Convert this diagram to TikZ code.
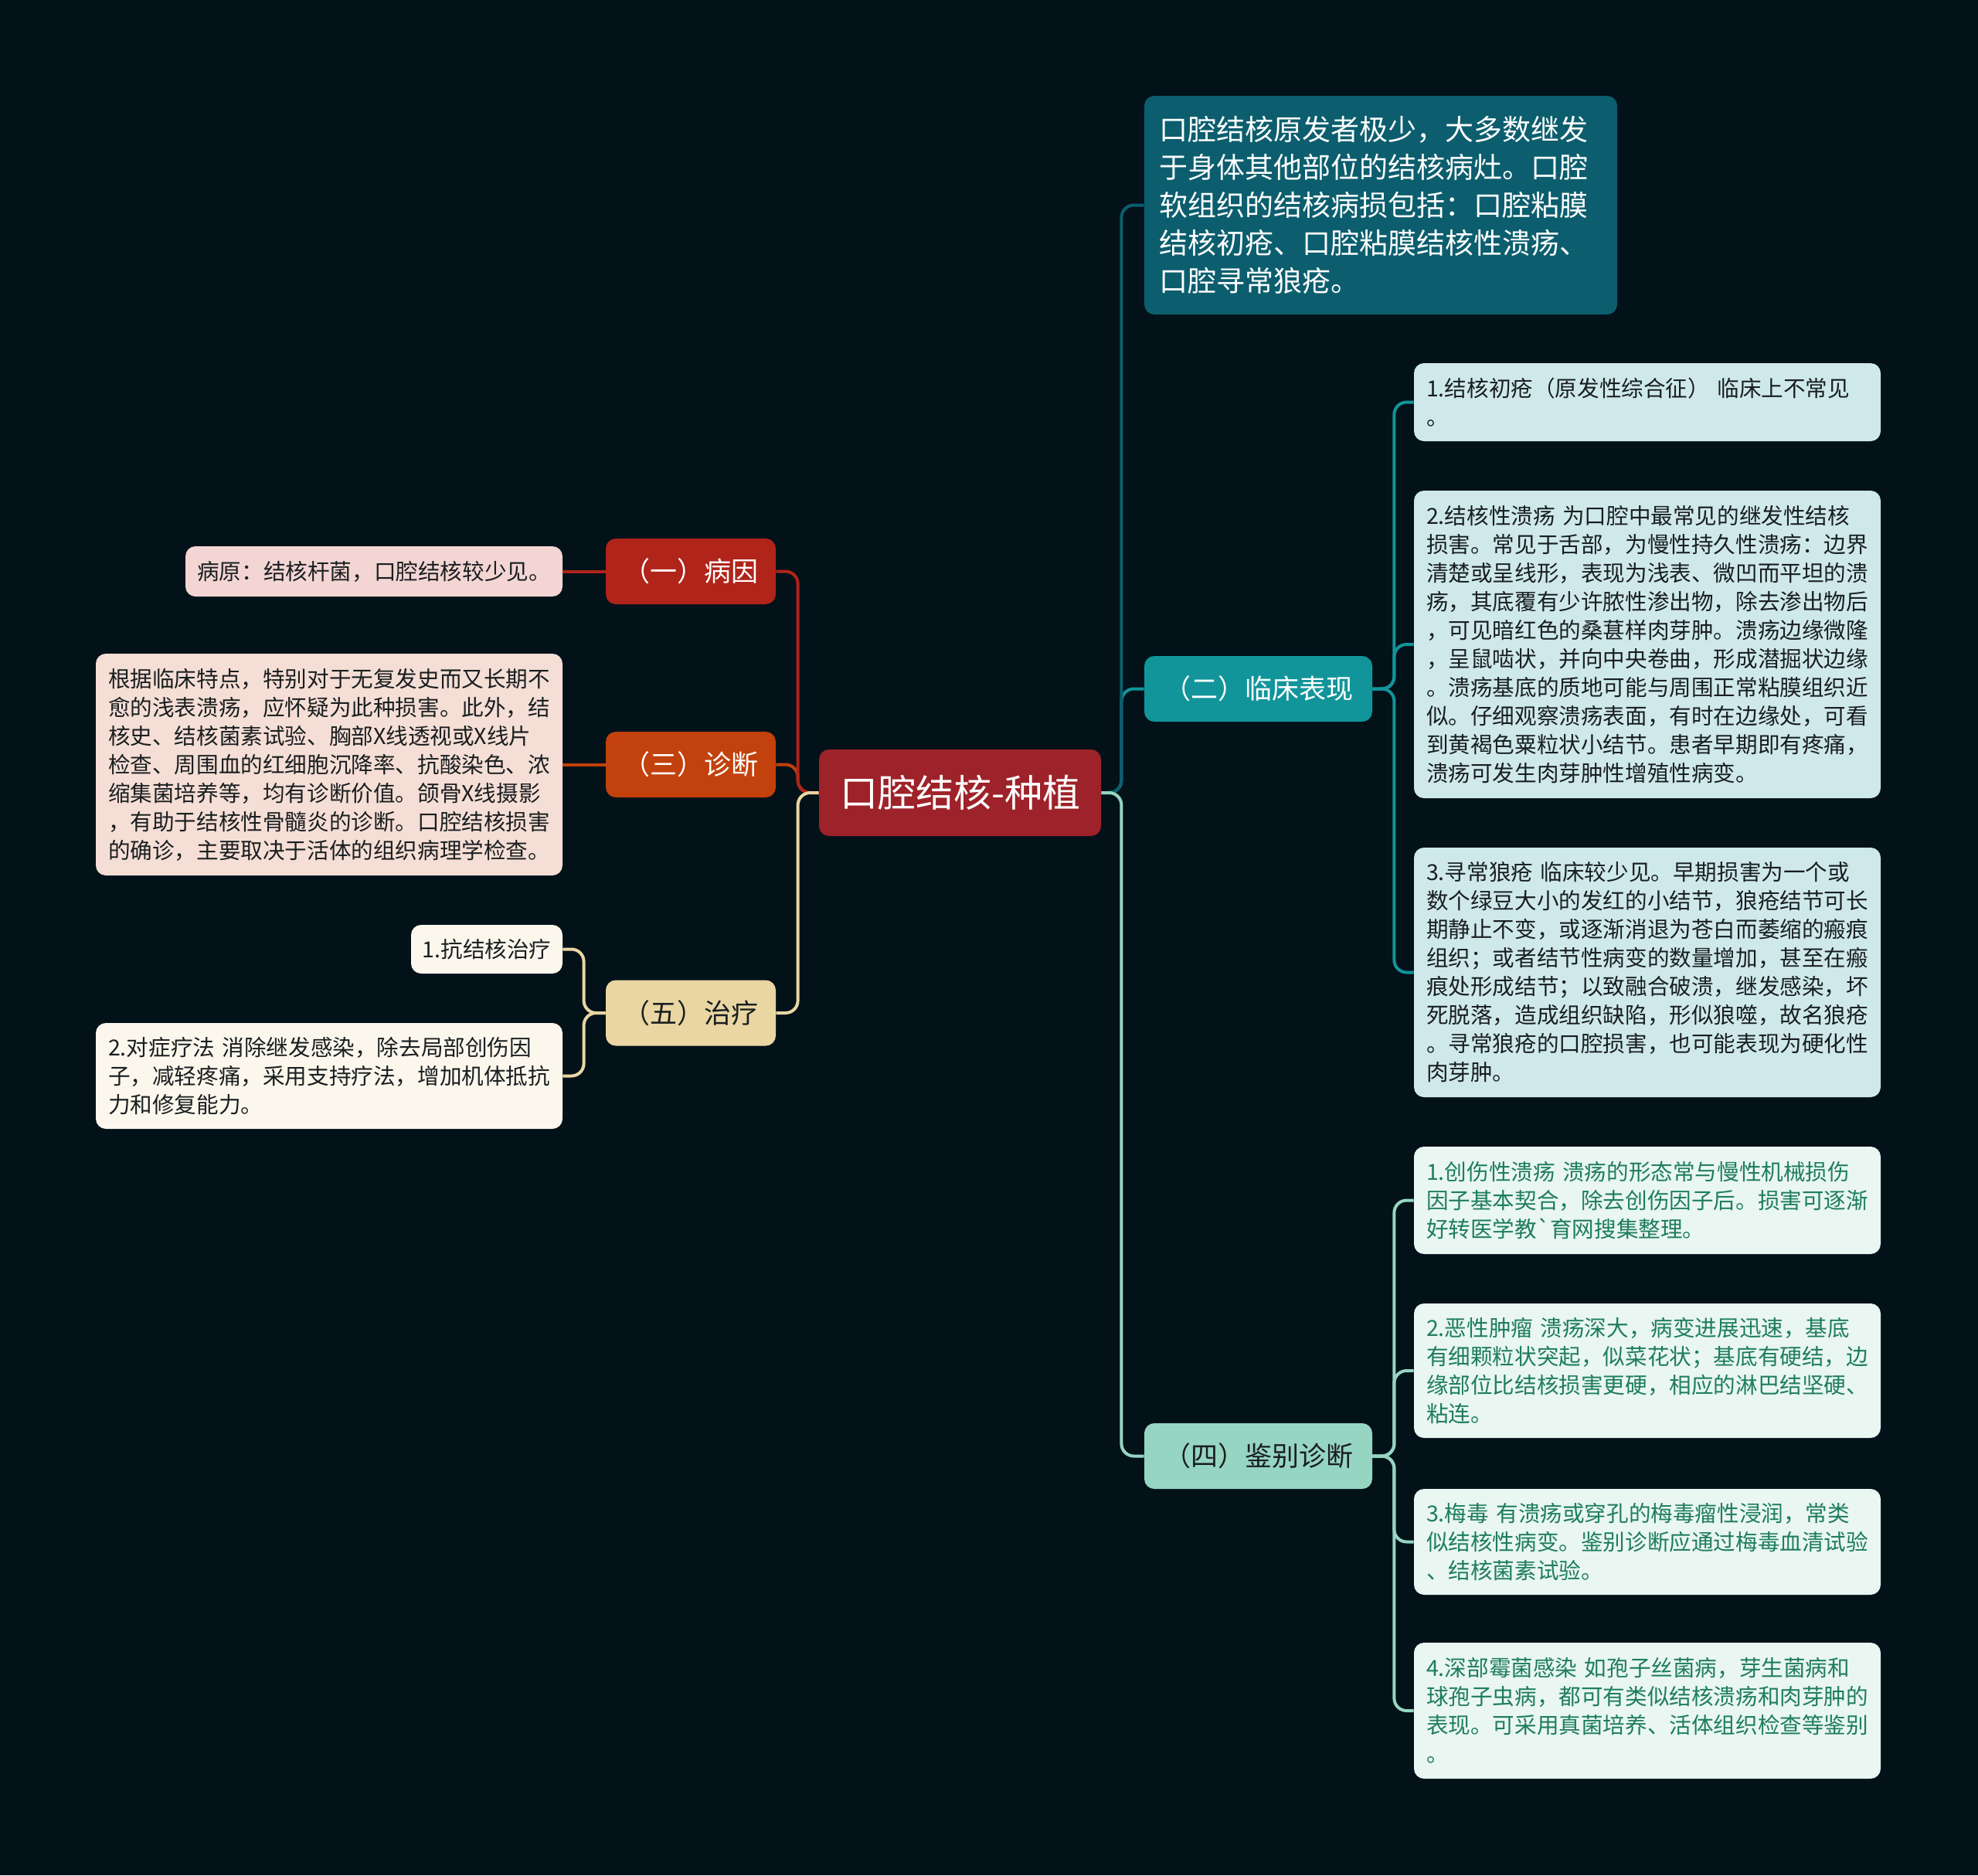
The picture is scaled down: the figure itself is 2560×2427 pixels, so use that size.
\documentclass[tikz,border=0pt]{standalone}
\usepackage{fontspec}
\usepackage{xcolor}
\usepackage{tikz}
\newfontfamily\cjk{Noto Sans CJK SC}
\definecolor{bg}{RGB}{3,17,25}
\definecolor{rootred}{RGB}{158,34,41}
\definecolor{summteal}{RGB}{12,94,110}
\definecolor{clinteal}{RGB}{17,149,154}
\definecolor{clinleaf}{RGB}{207,233,235}
\definecolor{diffmint}{RGB}{150,213,193}
\definecolor{diffleaf}{RGB}{233,246,242}
\definecolor{difftext}{RGB}{30,125,92}
\definecolor{causered}{RGB}{176,36,26}
\definecolor{causeleaf}{RGB}{243,213,211}
\definecolor{diagorange}{RGB}{194,65,12}
\definecolor{diagleaf}{RGB}{245,222,213}
\definecolor{treatsand}{RGB}{233,214,162}
\definecolor{treatleaf}{RGB}{252,247,236}
\definecolor{leaftext}{RGB}{25,30,32}
\newcommand\rootfont{\cjk\fontsize{24.5}{30}\selectfont}
\newcommand\topicfont{\cjk\fontsize{17.5}{22}\selectfont}
\newcommand\summfont{\cjk\fontsize{18.5}{24.5}\selectfont}
\newcommand\leaffont{\cjk\fontsize{14.3}{18.5}\selectfont}
\tikzstyle{box}=[rounded corners=6.5pt,inner sep=0pt,align=center]
\tikzstyle{root}=[box,fill=rootred,text=white,font=\rootfont,minimum width=182.5pt,minimum height=56pt]
\tikzstyle{topic}=[box,font=\topicfont,minimum height=42.5pt]
\tikzstyle{leaf}=[box,font=\leaffont,text=leaftext,align=left]
\tikzstyle{wide}=[leaf,inner xsep=8pt,text width=286pt]
\tikzstyle{link}=[line width=2pt,rounded corners=8pt]

\begin{document}
\begin{tikzpicture}[x=0.5pt,y=-0.5pt]
	\fill[bg] (0,0) rectangle (2560,2427);
	\useasboundingbox (0,0) rectangle (2560,2427);
	\node[root] (root) at (1242.5,1026) {口腔结核-种植};
	% right side
	\node[box,fill=summteal,text=white,font=\summfont,align=left,inner xsep=9.5pt,text width=287pt,minimum height=141.5pt] (summ) at (1787,265.5)
		{口腔结核原发者极少，大多数继发\\于身体其他部位的结核病灶。口腔\\软组织的结核病损包括：口腔粘膜\\结核初疮、口腔粘膜结核性溃疡、\\口腔寻常狼疮。};
	\node[topic,fill=clinteal,text=white,minimum width=147.5pt] (clin) at (1628.5,891.5) {（二）临床表现};
	\node[topic,fill=diffmint,text=leaftext,minimum width=147.5pt] (diff) at (1628.5,1884.5) {（四）鉴别诊断};
	\node[wide,fill=clinleaf,minimum height=50.5pt] (clin1) at (2132,520.5)
		{1.结核初疮（原发性综合征） 临床上不常见\\。};
	\node[wide,fill=clinleaf,minimum height=199pt] (clin2) at (2132,834)
		{2.结核性溃疡 为口腔中最常见的继发性结核\\损害。常见于舌部，为慢性持久性溃疡：边界\\清楚或呈线形，表现为浅表、微凹而平坦的溃\\疡，其底覆有少许脓性渗出物，除去渗出物后\\，可见暗红色的桑葚样肉芽肿。溃疡边缘微隆\\，呈鼠啮状，并向中央卷曲，形成潜掘状边缘\\。溃疡基底的质地可能与周围正常粘膜组织近\\似。仔细观察溃疡表面，有时在边缘处，可看\\到黄褐色粟粒状小结节。患者早期即有疼痛，\\溃疡可发生肉芽肿性增殖性病变。};
	\node[wide,fill=clinleaf,minimum height=161.5pt] (clin3) at (2132,1258.5)
		{3.寻常狼疮 临床较少见。早期损害为一个或\\数个绿豆大小的发红的小结节，狼疮结节可长\\期静止不变，或逐渐消退为苍白而萎缩的瘢痕\\组织；或者结节性病变的数量增加，甚至在瘢\\痕处形成结节；以致融合破溃，继发感染，坏\\死脱落，造成组织缺陷，形似狼噬，故名狼疮\\。寻常狼疮的口腔损害，也可能表现为硬化性\\肉芽肿。};
	\node[wide,fill=diffleaf,text=difftext,minimum height=69.5pt] (diff1) at (2132,1553.5)
		{1.创伤性溃疡 溃疡的形态常与慢性机械损伤\\因子基本契合，除去创伤因子后。损害可逐渐\\好转医学教`育网搜集整理。};
	\node[wide,fill=diffleaf,text=difftext,minimum height=87pt] (diff2) at (2132,1774)
		{2.恶性肿瘤 溃疡深大，病变进展迅速，基底\\有细颗粒状突起，似菜花状；基底有硬结，边\\缘部位比结核损害更硬，相应的淋巴结坚硬、\\粘连。};
	\node[wide,fill=diffleaf,text=difftext,minimum height=68.5pt] (diff3) at (2132,1995.5)
		{3.梅毒 有溃疡或穿孔的梅毒瘤性浸润，常类\\似结核性病变。鉴别诊断应通过梅毒血清试验\\、结核菌素试验。};
	\node[wide,fill=diffleaf,text=difftext,minimum height=88pt] (diff4) at (2132,2214)
		{4.深部霉菌感染 如孢子丝菌病，芽生菌病和\\球孢子虫病，都可有类似结核溃疡和肉芽肿的\\表现。可采用真菌培养、活体组织检查等鉴别\\。};
	% left side
	\node[topic,fill=causered,text=white,minimum width=110pt] (cause) at (894,739.5) {（一）病因};
	\node[topic,fill=diagorange,text=white,minimum width=110pt] (diag) at (894,989.5) {（三）诊断};
	\node[topic,fill=treatsand,text=leaftext,minimum width=110pt] (treat) at (894,1311) {（五）治疗};
	\node[leaf,fill=causeleaf,minimum width=244pt,minimum height=32.5pt] (causeleaf) at (484,739.5)
		{病原：结核杆菌，口腔结核较少见。};
	\node[wide,fill=diagleaf,minimum height=143.5pt] (diagleaf) at (426,989.5)
		{根据临床特点，特别对于无复发史而又长期不\\愈的浅表溃疡，应怀疑为此种损害。此外，结\\核史、结核菌素试验、胸部X线透视或X线片\\检查、周围血的红细胞沉降率、抗酸染色、浓\\缩集菌培养等，均有诊断价值。颌骨X线摄影\\，有助于结核性骨髓炎的诊断。口腔结核损害\\的确诊，主要取决于活体的组织病理学检查。};
	\node[leaf,fill=treatleaf,minimum width=98pt,minimum height=31.5pt] (treat1) at (630,1228.5) {1.抗结核治疗};
	\node[wide,fill=treatleaf,minimum height=68.5pt] (treat2) at (426,1392.5)
		{2.对症疗法 消除继发感染，除去局部创伤因\\子，减轻疼痛，采用支持疗法，增加机体抵抗\\力和修复能力。};
	% connectors
	\draw[link,clinteal] (root.east) -- ++(26,0) |- (clin.west);
	\draw[link,summteal] (root.east) -- ++(26,0) |- (summ.west);
	\draw[link,diffmint] (root.east) -- ++(26,0) |- (diff.west);
	\foreach \n in {clin1,clin2,clin3}
		\draw[link,clinteal] (clin.east) -- ++(28,0) |- (\n.west);
	\foreach \n in {diff1,diff2,diff3,diff4}
		\draw[link,diffmint] (diff.east) -- ++(28,0) |- (\n.west);
	\draw[link,diagorange] (root.west) -- ++(-27,0) |- (diag.east);
	\draw[link,causered] (root.west) -- ++(-27,0) |- (cause.east);
	\draw[link,treatsand] (root.west) -- ++(-27,0) |- (treat.east);
	\draw[link,causered] (cause.west) -- (causeleaf.east);
	\draw[link,diagorange] (diag.west) -- (diagleaf.east);
	\foreach \n in {treat1,treat2}
		\draw[link,treatsand] (treat.west) -- ++(-28,0) |- (\n.east);
\end{tikzpicture}
\end{document}
